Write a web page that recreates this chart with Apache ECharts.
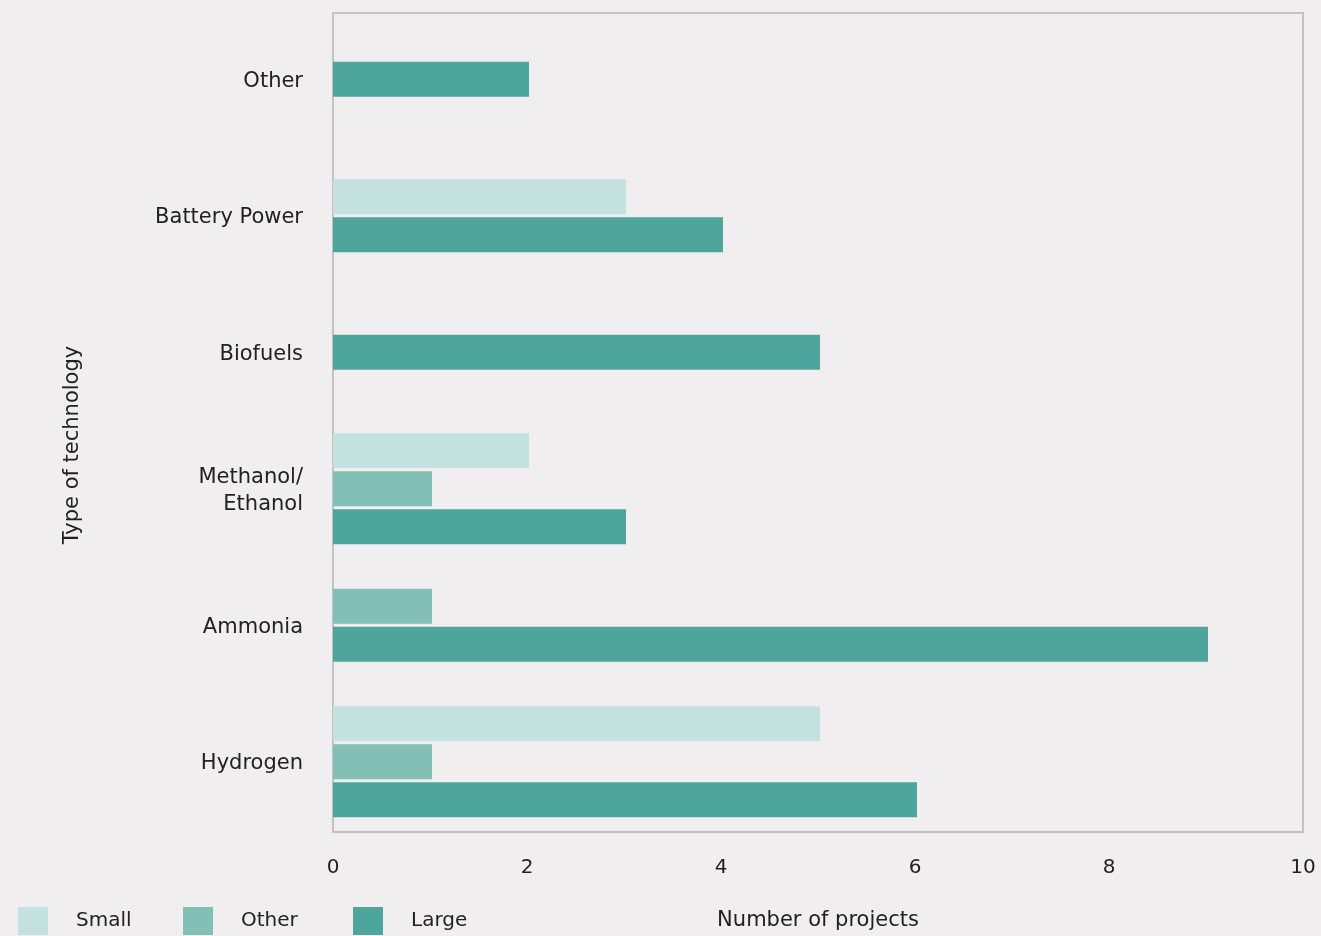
<!DOCTYPE html>
<html>
<head>
<meta charset="utf-8">
<script src="https://cdn.jsdelivr.net/npm/echarts@6/dist/echarts.min.js"></script>
<style>
html,body{margin:0;padding:0;background:#f0eeef;}
#chart{width:1321px;height:936px;}
</style>
</head>
<body>
<div id="chart"></div>
<script>
// Categories from bottom to top
var categories = ['Hydrogen', 'Ammonia', 'Methanol/\nEthanol', 'Biofuels', 'Battery Power', 'Other'];
var seriesNames = ['Small', 'Other', 'Large'];
var smallValues = [5, 0, 2, 0, 3, 0];
var otherValues = [1, 1, 1, 0, 0, 0];
var largeValues = [6, 9, 3, 5, 4, 2];
var xTicks = [0, 2, 4, 6, 8, 10];

var colors = { Small: '#c3e1df', Other: '#82c0b6', Large: '#4ea59c' };
var valuesByName = { Small: smallValues, Other: otherValues, Large: largeValues };

var FONT = '"DejaVu Sans", "Open Sans", sans-serif';
var BAR_FRAC = 0.256;   // bar thickness as fraction of band
var STEP_FRAC = 0.279;  // bar step as fraction of band
var OFFSET_FRAC = -0.015;

function slotInfo(name, catIdx) {
  var present = [];
  seriesNames.forEach(function (n) { if (valuesByName[n][catIdx] > 0) present.push(n); });
  return { k: present.indexOf(name), count: present.length };
}

function makeSeries(name) {
  var vals = valuesByName[name];
  var data = [];
  vals.forEach(function (v, i) { if (v > 0) data.push([v, i]); });
  return {
    name: name,
    type: 'custom',
    itemStyle: { color: colors[name] },
    encode: { x: 0, y: 1 },
    data: data,
    renderItem: function (params, api) {
      var v = api.value(0), ci = api.value(1);
      var info = slotInfo(name, ci);
      var band = api.size([0, 1])[1];
      var origin = api.coord([0, ci]);
      var end = api.coord([v, ci]);
      var barH = band * BAR_FRAC, step = band * STEP_FRAC;
      var total = (info.count - 1) * step + barH;
      var center = origin[1] + band * OFFSET_FRAC;
      var top = center - total / 2 + info.k * step;
      return {
        type: 'rect',
        shape: { x: origin[0], y: top, width: end[0] - origin[0] + 2, height: barH },
        style: { fill: colors[name] }
      };
    }
  };
}

var chart = echarts.init(document.getElementById('chart'), null, { renderer: 'canvas' });

function legendFor(name, left) {
  return {
    data: [{ name: name, icon: 'rect' }],
    left: left, top: 907, padding: 0,
    itemWidth: 30, itemHeight: 28,
    selectedMode: false,
    textStyle: { fontFamily: FONT, fontSize: 20, color: '#222', padding: [2, 0, 0, 23] }
  };
}

chart.setOption({
  backgroundColor: '#f0eeef',
  animation: false,
  grid: {
    left: 333, right: 18, top: 13, bottom: 103,
    show: true, borderColor: '#c2c2c2', borderWidth: 2, backgroundColor: 'transparent'
  },
  legend: [legendFor('Small', 18), legendFor('Other', 183), legendFor('Large', 353)],
  xAxis: {
    type: 'value', min: xTicks[0], max: xTicks[xTicks.length - 1], interval: 2,
    name: 'Number of projects', nameLocation: 'middle', nameGap: 78,
    nameTextStyle: { fontFamily: FONT, fontSize: 21, color: '#222' },
    axisLine: { show: false }, axisTick: { show: false }, splitLine: { show: false },
    axisLabel: { fontFamily: FONT, fontSize: 20, color: '#222', margin: 26 }
  },
  yAxis: {
    type: 'category', data: categories,
    axisLine: { show: false }, axisTick: { show: false }, splitLine: { show: false },
    axisLabel: { fontFamily: FONT, fontSize: 21, color: '#222', margin: 30, lineHeight: 27, align: 'right' }
  },
  graphic: [{
    type: 'text', x: 73, y: 445,
    rotation: Math.PI / 2,
    style: { text: 'Type of technology', font: '21px ' + FONT, fill: '#222', align: 'center', verticalAlign: 'middle' }
  }],
  series: seriesNames.map(makeSeries)
});
</script>
</body>
</html>
